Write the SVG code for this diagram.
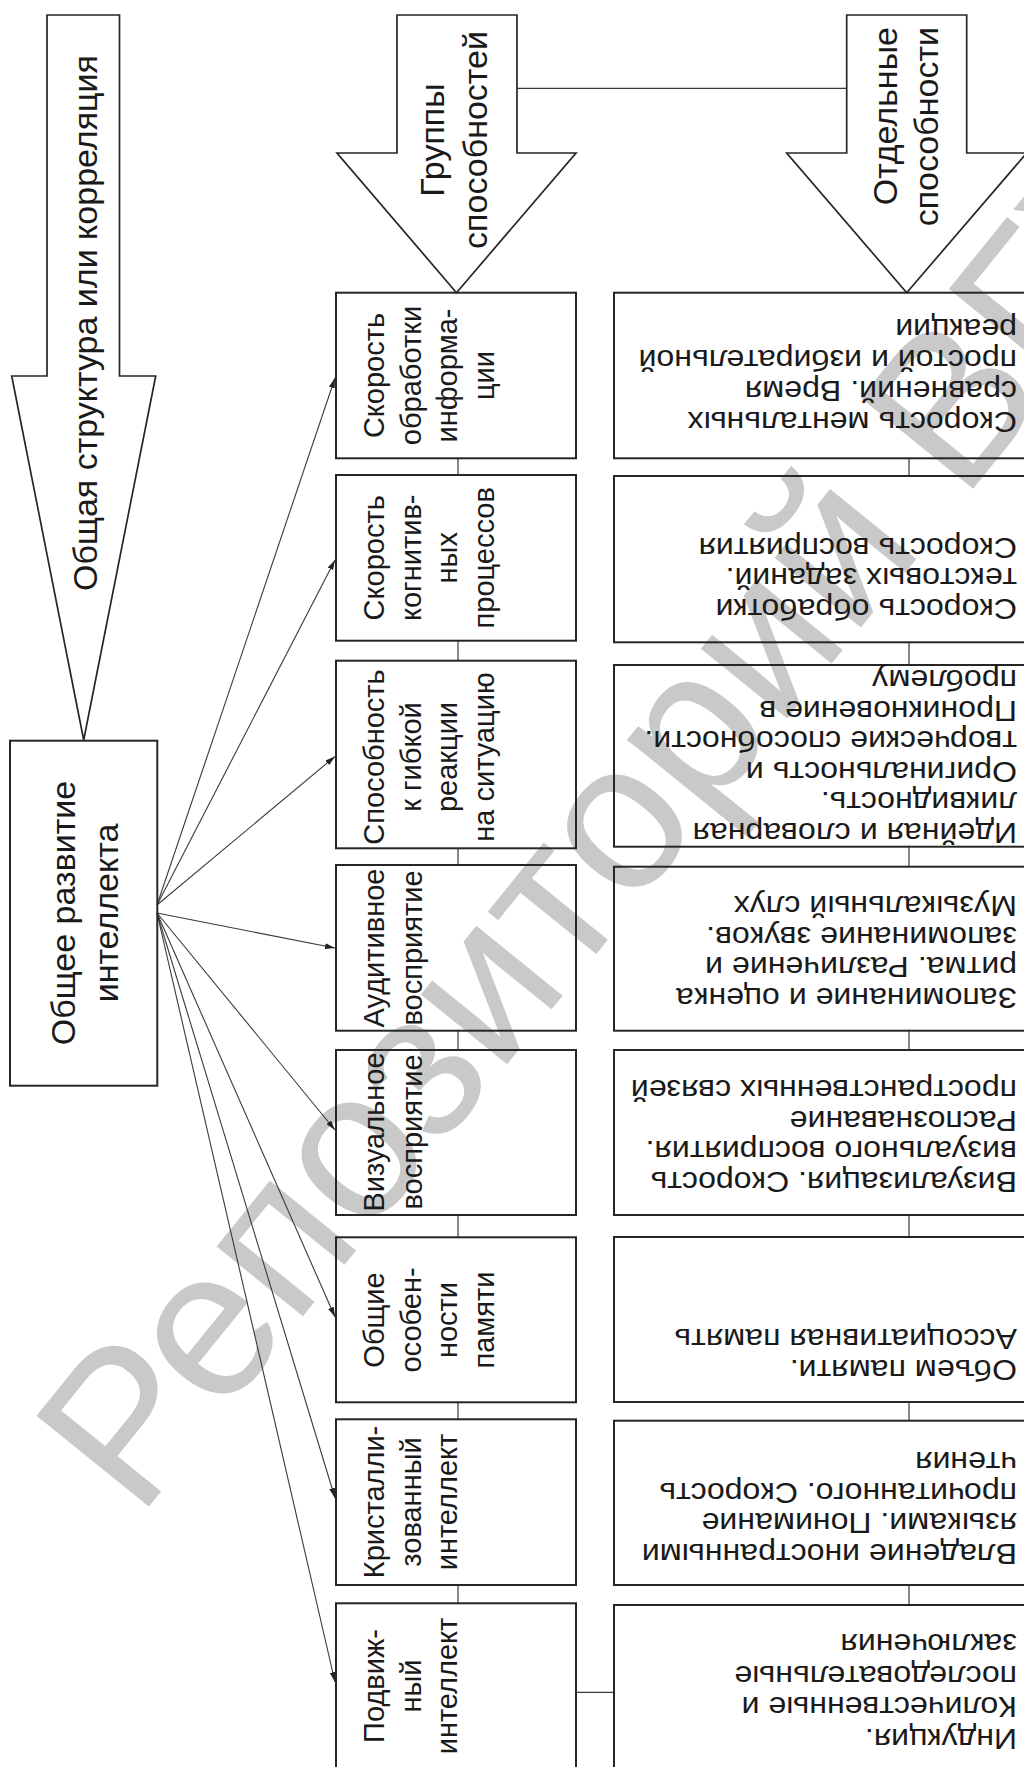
<svg xmlns="http://www.w3.org/2000/svg" width="1024" height="1767" viewBox="0 0 1024 1767">
<defs>
<marker id="ah" viewBox="0 0 10 6" refX="10" refY="3" markerWidth="10" markerHeight="6" orient="auto" markerUnits="userSpaceOnUse"><path d="M0,0 L10,3 L0,6 z" fill="#222"/></marker>
<style>
.box{fill:none;stroke:#262626;stroke-width:2}
.arr{fill:#fff;stroke:#262626;stroke-width:1.7}
.ln{stroke:#3a3a3a;stroke-width:1.2;fill:none}
.ar{stroke:#3a3a3a;stroke-width:1.1;fill:none;marker-end:url(#ah)}
.v{font-family:"Liberation Sans",Arial,sans-serif;font-size:29px;fill:#1a1a1a;text-anchor:middle}
.vb{font-family:"Liberation Sans",Arial,sans-serif;font-size:34px;fill:#1a1a1a;text-anchor:middle}
.h{font-family:"Liberation Sans",Arial,sans-serif;font-size:30px;fill:#1a1a1a}
.wm{font-family:"Liberation Sans",Arial,sans-serif;font-size:210px;fill:#c9c9c9}
</style>
</defs>
<rect width="1024" height="1767" fill="#fff"/>
<text class="wm" transform="translate(138,1520) rotate(-51)">Репозиторий ВГУ</text>

<g id="connectors">
<line class="ln" x1="517" y1="88.3" x2="846.7" y2="88.3"/>
<line class="ln" x1="458" y1="458.3" x2="458" y2="475"/>
<line class="ln" x1="458" y1="640.7" x2="458" y2="660.7"/>
<line class="ln" x1="458" y1="848.3" x2="458" y2="865"/>
<line class="ln" x1="458" y1="1030.7" x2="458" y2="1050"/>
<line class="ln" x1="458" y1="1215" x2="458" y2="1237.3"/>
<line class="ln" x1="458" y1="1402.3" x2="458" y2="1419.3"/>
<line class="ln" x1="458" y1="1585" x2="458" y2="1603.3"/>
<line class="ln" x1="909" y1="458.3" x2="909" y2="476"/>
<line class="ln" x1="909" y1="642.3" x2="909" y2="665"/>
<line class="ln" x1="909" y1="846.7" x2="909" y2="866.7"/>
<line class="ln" x1="909" y1="1030.7" x2="909" y2="1050"/>
<line class="ln" x1="909" y1="1215" x2="909" y2="1237"/>
<line class="ln" x1="909" y1="1402" x2="909" y2="1420.7"/>
<line class="ln" x1="909" y1="1585" x2="909" y2="1605"/>
<line class="ln" x1="576" y1="1692.3" x2="614" y2="1692.3"/>
<line class="ar" x1="157" y1="905" x2="335" y2="378"/>
<line class="ar" x1="157" y1="905" x2="335" y2="560"/>
<line class="ar" x1="157" y1="905" x2="335" y2="756.5"/>
<line class="ar" x1="157" y1="913" x2="335" y2="948"/>
<line class="ar" x1="157" y1="913" x2="335" y2="1130"/>
<line class="ar" x1="157" y1="913" x2="335" y2="1317"/>
<line class="ar" x1="157" y1="913" x2="335" y2="1498"/>
<line class="ar" x1="157" y1="913" x2="335" y2="1682"/>
</g>

<g id="arrow-general">
<polygon class="arr" points="47,15 119.5,15 119.5,376 155.7,376 83.7,740 11.7,376 47,376"/>
<g transform="translate(0,55) rotate(-90)"><text class="vb" style="text-anchor:end" x="0" y="97">Общая структура или корреляция</text></g>
</g>

<g id="arrow-groups">
<polygon class="arr" points="397,15 517,15 517,153 576,153 456.5,292.7 337,153 397,153"/>
<g transform="translate(0,140) rotate(-90)"><text class="vb" x="0" y="444">Группы</text><text class="vb" x="0" y="487">способностей</text></g>
</g>

<g id="arrow-separate">
<polygon class="arr" points="846.7,15 966.7,15 966.7,153 1026.7,153 906.7,292.7 786.7,153 846.7,153"/>
<g transform="translate(0,27) rotate(-90)"><text class="vb" style="text-anchor:end" x="0" y="897">Отдельные</text><text class="vb" style="text-anchor:end" x="0" y="938">способности</text></g>
</g>

<g id="general">
<rect class="box" x="10" y="740.7" width="147.3" height="345"/>
<g transform="translate(0,913) rotate(-90)"><text class="vb" x="0" y="75">Общее развитие</text><text class="vb" x="0" y="118">интеллекта</text></g>
</g>

<g id="g1">
<rect class="box" x="336" y="292.7" width="240" height="165.6"/>
<g transform="translate(0,375.5) rotate(-90)"><text class="v" x="0" y="384">Скорость</text><text class="v" x="0" y="421">обработки</text><text class="v" x="0" y="457">информа-</text><text class="v" x="0" y="494">ции</text></g>
</g>
<g id="g2">
<rect class="box" x="336" y="475" width="240" height="165.7"/>
<g transform="translate(0,557.8) rotate(-90)"><text class="v" x="0" y="384">Скорость</text><text class="v" x="0" y="421">когнитив-</text><text class="v" x="0" y="457">ных</text><text class="v" x="0" y="494">процессов</text></g>
</g>
<g id="g3">
<rect class="box" x="336" y="660.7" width="240" height="187.6"/>
<g transform="translate(0,757) rotate(-90)"><text class="v" x="0" y="384">Способность</text><text class="v" x="0" y="421">к гибкой</text><text class="v" x="0" y="457">реакции</text><text class="v" x="0" y="494">на ситуацию</text></g>
</g>
<g id="g4">
<rect class="box" x="336" y="865" width="240" height="165.7"/>
<g transform="translate(0,948) rotate(-90)"><text class="v" x="0" y="384">Аудитивное</text><text class="v" x="0" y="422">восприятие</text></g>
</g>
<g id="g5">
<rect class="box" x="336" y="1050" width="240" height="165"/>
<g transform="translate(0,1132) rotate(-90)"><text class="v" x="0" y="384">Визуальное</text><text class="v" x="0" y="422">восприятие</text></g>
</g>
<g id="g6">
<rect class="box" x="336" y="1237.3" width="240" height="165"/>
<g transform="translate(0,1320) rotate(-90)"><text class="v" x="0" y="384">Общие</text><text class="v" x="0" y="421">особен-</text><text class="v" x="0" y="457">ности</text><text class="v" x="0" y="494">памяти</text></g>
</g>
<g id="g7">
<rect class="box" x="336" y="1419.3" width="240" height="165.7"/>
<g transform="translate(0,1502) rotate(-90)"><text class="v" x="0" y="384">Кристалли-</text><text class="v" x="0" y="421">зованный</text><text class="v" x="0" y="457">интеллект</text></g>
</g>
<g id="g8">
<rect class="box" x="336" y="1603.3" width="240" height="166"/>
<g transform="translate(0,1686) rotate(-90)"><text class="v" x="0" y="384">Подвиж-</text><text class="v" x="0" y="421">ный</text><text class="v" x="0" y="457">интеллект</text></g>
</g>

<g id="s1">
<rect class="box" x="614" y="292.7" width="420" height="165.6"/>
<g transform="translate(1017,0) rotate(180) scale(1.07,1)"><text class="h" x="0" y="-411.7">Скорость ментальных</text><text class="h" x="0" y="-380.7">сравнений. Время</text><text class="h" x="0" y="-349.7">простой и избирательной</text><text class="h" x="0" y="-318.7">реакции</text></g>
</g>
<g id="s2">
<rect class="box" x="614" y="476" width="420" height="166.3"/>
<g transform="translate(1017,0) rotate(180) scale(1.07,1)"><text class="h" x="0" y="-599">Скорость обработки</text><text class="h" x="0" y="-568.5">текстовых заданий.</text><text class="h" x="0" y="-538">Скорость восприятия</text></g>
</g>
<g id="s3">
<rect class="box" x="614" y="665" width="420" height="181.7"/>
<g transform="translate(1017,0) rotate(180) scale(1.07,1)"><text class="h" x="0" y="-823">Идейная и словарная</text><text class="h" x="0" y="-792.5">ликвидность.</text><text class="h" x="0" y="-762">Оригинальность и</text><text class="h" x="0" y="-731.5">творческие способности.</text><text class="h" x="0" y="-701">Проникновение в</text><text class="h" x="0" y="-670.5">проблему</text></g>
</g>
<g id="s4">
<rect class="box" x="614" y="866.7" width="420" height="164"/>
<g transform="translate(1017,0) rotate(180) scale(1.07,1)"><text class="h" x="0" y="-988">Запоминание и оценка</text><text class="h" x="0" y="-957.5">ритма. Различение и</text><text class="h" x="0" y="-927">запоминание звуков.</text><text class="h" x="0" y="-896.5">Музыкальный слух</text></g>
</g>
<g id="s5">
<rect class="box" x="614" y="1050" width="420" height="165"/>
<g transform="translate(1017,0) rotate(180) scale(1.07,1)"><text class="h" x="0" y="-1172">Визуализация. Скорость</text><text class="h" x="0" y="-1141.5">визуального восприятия.</text><text class="h" x="0" y="-1111">Распознавание</text><text class="h" x="0" y="-1080.5">пространственных связей</text></g>
</g>
<g id="s6">
<rect class="box" x="614" y="1237" width="420" height="165"/>
<g transform="translate(1017,0) rotate(180) scale(1.07,1)"><text class="h" x="0" y="-1360">Объем памяти.</text><text class="h" x="0" y="-1329.5">Ассоциативная память</text></g>
</g>
<g id="s7">
<rect class="box" x="614" y="1420.7" width="420" height="164.3"/>
<g transform="translate(1017,0) rotate(180) scale(1.07,1)"><text class="h" x="0" y="-1544">Владение иностранными</text><text class="h" x="0" y="-1513.5">языками. Понимание</text><text class="h" x="0" y="-1483">прочитанного. Скорость</text><text class="h" x="0" y="-1452.5">чтения</text></g>
</g>
<g id="s8">
<rect class="box" x="614" y="1605" width="420" height="166"/>
<g transform="translate(1017,0) rotate(180) scale(1.07,1)"><text class="h" x="0" y="-1729">Индукция.</text><text class="h" x="0" y="-1697.5">Количественные и</text><text class="h" x="0" y="-1666">последовательные</text><text class="h" x="0" y="-1634.5">заключения</text></g>
</g>
</svg>
